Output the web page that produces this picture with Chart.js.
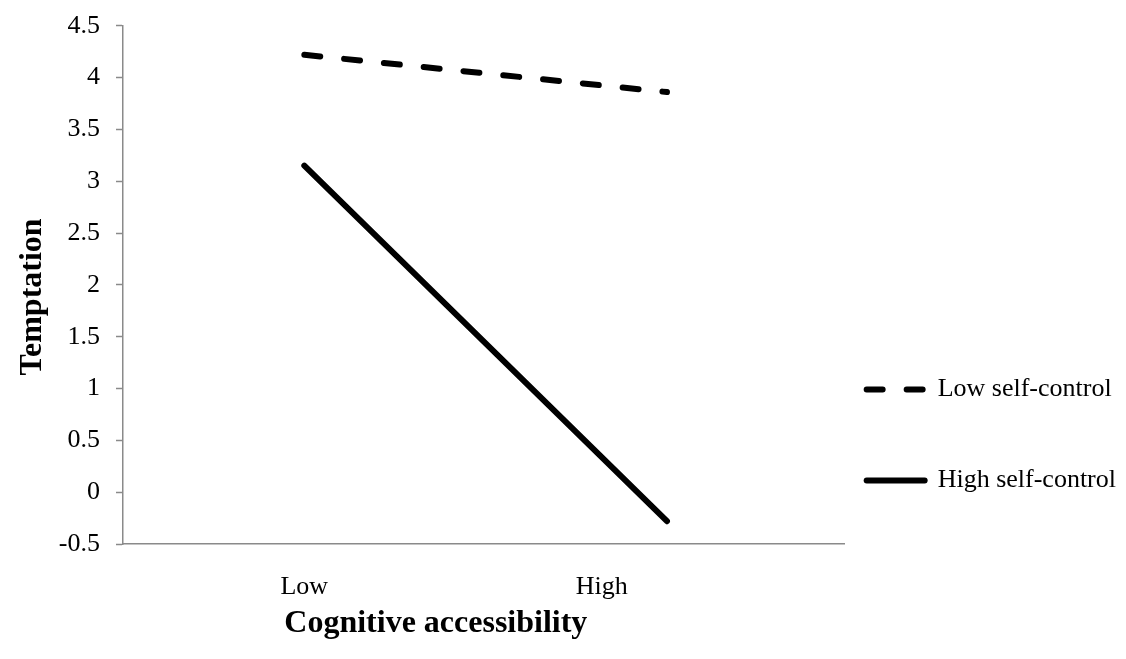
<!DOCTYPE html>
<html>
<head>
<meta charset="utf-8">
<script src="https://cdn.jsdelivr.net/npm/chart.js@4.4.1/dist/chart.umd.min.js"></script>
<style>
    html, body { margin: 0; padding: 0; background: #fff; }
    #wrap { width: 1126px; height: 659px; }
</style>
</head>
<body>
<div id="wrap"><canvas id="temptation-chart"></canvas></div>
<script>
// categories on the x axis and where their labels sit on the value scale
const accessLevels = ['Low', 'High'];
const accessLabelAt = [1, 1.82];
const accessValues = [1, 2];

// series
const lowSelfControl = [4.22, 3.86];
const highSelfControl = [3.15, -0.28];

const serif = "'Liberation Serif', 'Times New Roman', serif";
const axisGray = '#8a8a8a';

function toPoints(values) {
    return values.map((v, i) => ({x: accessValues[i], y: v}));
}

let chart = new Chart(document.getElementById('temptation-chart'), {
    type: 'line',
    data: {
        datasets: [
            {
                label: 'Low self-control',
                data: toPoints(lowSelfControl),
                borderColor: '#000',
                borderWidth: 6,
                borderDash: [16, 24],
                borderCapStyle: 'round',
                pointRadius: 0,
                tension: 0
            },
            {
                label: 'High self-control',
                data: toPoints(highSelfControl),
                borderColor: '#000',
                borderWidth: 6,
                borderCapStyle: 'round',
                pointRadius: 0,
                tension: 0
            }
        ]
    },
    options: {
        responsive: true,
        maintainAspectRatio: false,
        animation: false,
        layout: {
            padding: {top: 5.5, left: 0, right: 0, bottom: 0}
        },
        plugins: {
            tooltip: {enabled: false},
            legend: {
                position: 'right',
                align: 'start',
                // empty title only pushes the two rows down
                title: {
                    display: true,
                    text: ' ',
                    font: {size: 12},
                    padding: {top: 0, bottom: 334.5}
                },
                labels: {
                    usePointStyle: true,
                    pointStyle: 'line',
                    pointStyleWidth: 58,
                    padding: 22,
                    color: '#000',
                    font: {family: serif, size: 26, lineHeight: 1.33},
                    // second empty line gives the taller row spacing
                    generateLabels: (c) => c.data.datasets.map((ds, i) => ({
                        text: [ds.label, ''],
                        fillStyle: '#000',
                        strokeStyle: '#000',
                        fontColor: '#000',
                        lineWidth: 6,
                        lineDash: ds.borderDash || [],
                        lineCap: 'round',
                        pointStyle: 'line',
                        hidden: false,
                        datasetIndex: i
                    }))
                }
            }
        },
        scales: {
            x: {
                type: 'linear',
                min: 0.5,
                max: 2.49,
                afterFit: (scale) => { scale.height = 115; },
                afterBuildTicks: (scale) => {
                    scale.ticks = accessLabelAt.map(v => ({value: v}));
                },
                grid: {display: false},
                border: {display: true, color: axisGray, width: 1.5},
                ticks: {
                    padding: 20,
                    color: '#000',
                    font: {family: serif, size: 26},
                    maxRotation: 0,
                    callback: (v, i) => accessLevels[i]
                },
                title: {
                    display: true,
                    text: 'Cognitive accessibility' + ' '.repeat(12),
                    color: '#000',
                    font: {family: serif, size: 32, weight: 'bold'},
                    padding: {top: 0, bottom: 16}
                }
            },
            y: {
                min: -0.5,
                max: 4.5,
                afterFit: (scale) => { scale.width = 123; },
                ticks: {
                    stepSize: 0.5,
                    padding: 16,
                    color: '#000',
                    // small line height keeps the top gap tight
                    font: {family: serif, size: 26, lineHeight: 0.75},
                    callback: (v) => String(v)
                },
                grid: {
                    drawOnChartArea: false,
                    tickLength: 7,
                    tickWidth: 1.5,
                    color: axisGray
                },
                border: {display: true, color: axisGray, width: 1.5},
                title: {
                    display: true,
                    text: 'Temptation' + ' '.repeat(3),
                    color: '#000',
                    font: {family: serif, size: 32, weight: 'bold'},
                    padding: {top: 14, bottom: 0}
                }
            }
        }
    }
});
</script>
</body>
</html>
